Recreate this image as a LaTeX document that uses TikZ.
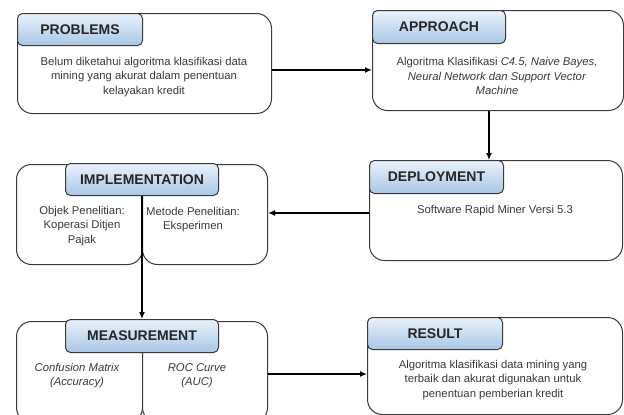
\documentclass[tikz,border=0pt]{standalone}
\usepackage{fontspec}
\setmainfont{Liberation Sans}
\usetikzlibrary{arrows.meta}
\definecolor{headtop}{HTML}{EAF2FB}
\definecolor{headbot}{HTML}{A8C6E5}
\definecolor{boxgray}{HTML}{3A3A3A}
\definecolor{textgray}{HTML}{3A3A3A}
\begin{document}
\begin{tikzpicture}[x=1pt,y=-1pt,
  box/.style={draw=boxgray, line width=1pt, rounded corners=15pt, fill=white, anchor=north west, inner sep=0pt},
  head/.style={draw=boxgray, line width=1pt, rounded corners=5pt, top color=headtop, bottom color=headbot, anchor=north west, inner sep=0pt, font=\fontsize{14}{16}\selectfont\bfseries, text=black!85},
  body/.style={font=\fontsize{11.3}{14.3}\selectfont, text=textgray, align=center, inner sep=0pt},
  arr/.style={-{Latex[length=7pt,width=6pt]}, line width=1.4pt, black}]
\useasboundingbox (0,0) rectangle (624,415);
\clip (0,0) rectangle (624,415);
\fill[white] (0,0) rectangle (624,415);

% PROBLEMS
\node[box, minimum width=254pt, minimum height=100pt] (prob) at (17,13) {};
\node[head, minimum width=125pt, minimum height=32pt] (probh) at (17,13) {PROBLEMS};
\node[body] (probt) at (144,77) {Belum diketahui algoritma klasifikasi data\\mining yang akurat dalam penentuan\\kelayakan kredit};

% APPROACH
\node[box, minimum width=251pt, minimum height=100pt] (appr) at (372,10) {};
\node[head, minimum width=133pt, minimum height=33pt] (apprh) at (372,10) {APPROACH};
\node[body] (apprt) at (497,76) {Algoritma Klasifikasi \textit{C4.5, Naive Bayes,}\\\textit{Neural Network dan Support Vector}\\\textit{Machine}};

% DEPLOYMENT
\node[box, minimum width=253pt, minimum height=100pt] (depl) at (369,160) {};
\node[head, minimum width=134pt, minimum height=33pt] (deplh) at (369,160) {DEPLOYMENT};
\node[body] (deplt) at (495,211) {Software Rapid Miner Versi 5.3};

% IMPLEMENTATION
\node[box, minimum width=126pt, minimum height=100pt] (implL) at (16,164) {};
\node[box, minimum width=125pt, minimum height=100pt] (implR) at (142,164) {};
\node[head, minimum width=153pt, minimum height=32pt] (implh) at (65,163) {IMPLEMENTATION};
\node[body] (implLt) at (82,226) {Objek Penelitian:\\Koperasi Ditjen\\Pajak};
\node[body] (implRt) at (193,219.5) {Metode Penelitian:\\Eksperimen};

% MEASUREMENT
\node[box, minimum width=126pt, minimum height=101pt] (measL) at (16,321) {};
\node[box, minimum width=125pt, minimum height=101pt] (measR) at (142,321) {};
\node[head, minimum width=153pt, minimum height=33pt] (meash) at (65,319) {MEASUREMENT};
\node[body, font=\fontsize{11.3}{14.3}\selectfont\itshape] (measLt) at (77,375.5) {Confusion Matrix\\(Accuracy)};
\node[body, font=\fontsize{11.3}{14.3}\selectfont\itshape] (measRt) at (197,375.5) {ROC Curve\\(AUC)};

% RESULT
\node[box, minimum width=255pt, minimum height=97pt] (res) at (367,317) {};
\node[head, minimum width=135pt, minimum height=32pt] (resh) at (367,317) {RESULT};
\node[body] (rest) at (493,380) {Algoritma klasifikasi data mining yang\\terbaik dan akurat digunakan untuk\\penentuan pemberian kredit};

% connectors
\draw[arr] (prob.east |- 0,70) -- (appr.west |- 0,70);
\draw[arr] (appr.south -| 489,0) -- (depl.north -| 489,0);
\draw[arr] (depl.west |- 0,213) -- (implR.east |- 0,213);
\draw[arr] (implh.south) -- (meash.north);
\draw[arr] (measR.east |- 0,374) -- (res.west |- 0,374);
\end{tikzpicture}
\end{document}
